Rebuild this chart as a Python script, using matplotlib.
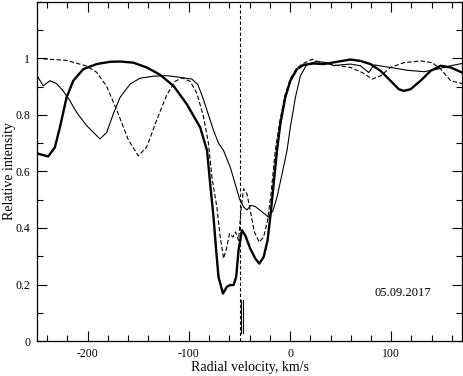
import matplotlib
matplotlib.use('Agg')
import matplotlib.pyplot as plt
from matplotlib.ticker import MultipleLocator

plt.rcParams['font.family'] = 'Liberation Serif'

# thick solid profile
x1 = [-250, -239, -232.4, -227.4, -220.8, -214.2, -204.3, -191.1, -177.9, -168, -154.9, -141.6, -128.4,
      -115.2, -102, -88.8, -82, -78.9, -75.6, -73, -70.7, -66.3, -62.4, -59.1, -55.8, -53.2, -50.9, -47.5,
      -44.3, -39.3, -34.4, -30.4, -26.1, -22.2, -18.8, -16.2, -12.9, -9.6, -4.7, 0.3, 6.9, 13.5, 23.4,
      33.3, 46.5, 59.7, 69.6, 79.5, 89.4, 99.3, 107.5, 112.5, 119.1, 129, 138.9, 148.8, 158.7, 170]
y1 = [0.664, 0.653, 0.685, 0.756, 0.862, 0.921, 0.962, 0.98, 0.988, 0.989, 0.985, 0.968, 0.942,
      0.903, 0.838, 0.756, 0.674, 0.556, 0.438, 0.321, 0.227, 0.168, 0.192, 0.198, 0.198, 0.227, 0.321,
      0.392, 0.374, 0.327, 0.292, 0.274, 0.297, 0.356, 0.462, 0.556, 0.674, 0.768, 0.862, 0.921, 0.962,
      0.977, 0.982, 0.98, 0.988, 0.996, 0.991, 0.98, 0.956, 0.921, 0.891, 0.885, 0.891, 0.921, 0.956,
      0.974, 0.968, 0.95]

# thin solid profile
x2 = [-250.5, -243.9, -237.3, -230.7, -224.2, -217.5, -210.9, -201, -191.1, -187.8, -181.2, -174.7,
      -168, -158.1, -148.2, -135, -121.8, -108.6, -97, -91, -85.5, -80.6, -75.6, -70.6, -65.7, -59.1,
      -54.2, -49.9, -45.9, -42.6, -38.6, -34.4, -29.4, -24.5, -21.2, -16.8, -12.9, -7.9, -3, 0.3, 5.3,
      10.2, 16.8, 26.7, 36.6, 43.2, 49.8, 59.7, 69.6, 77.8, 82.8, 99.3, 115.8, 132.3, 145.5, 158.7, 170]
y2 = [0.942, 0.903, 0.921, 0.911, 0.885, 0.85, 0.809, 0.762, 0.727, 0.715, 0.738, 0.803,
      0.862, 0.909, 0.93, 0.937, 0.939, 0.933, 0.927, 0.907, 0.854, 0.80, 0.745, 0.70, 0.674, 0.615,
      0.556, 0.503, 0.474, 0.464, 0.48, 0.476, 0.462, 0.448, 0.438, 0.462, 0.509, 0.591, 0.674, 0.756,
      0.862, 0.938, 0.98, 0.989, 0.985, 0.974, 0.977, 0.98, 0.974, 0.95, 0.977, 0.968, 0.958, 0.953,
      0.962, 0.974, 0.982]

# dashed profile
x3 = [-250.5, -220.8, -201, -191.1, -181.2, -171.3, -159.7, -149.8, -141.6, -131.7, -121.8, -113.5,
      -106.9, -98.7, -92.1, -85.5, -80.6, -77.2, -72.3, -69, -65.7, -62.4, -59.8, -56.4, -53.9, -50.9,
      -48.2, -45.9, -42.6, -39.3, -35.3, -30.4, -26.1, -22.2, -18.8, -14.6, -10, -5, 0.5, 6, 11.9,
      21.8, 30, 43.2, 59.7, 71.3, 81.2, 89.4, 99.3, 112.5, 129, 140.6, 148.8, 158.7, 170]
y3 = [1.0, 0.993, 0.973, 0.951, 0.901, 0.818, 0.711, 0.655, 0.687, 0.782, 0.871, 0.919,
      0.931, 0.919, 0.877, 0.794, 0.699, 0.58, 0.474, 0.368, 0.292, 0.333, 0.38, 0.368, 0.386, 0.356,
      0.474, 0.539, 0.521, 0.462, 0.386, 0.35, 0.368, 0.427, 0.521, 0.674, 0.78, 0.87, 0.93, 0.962,
      0.98, 0.997, 0.985, 0.977, 0.968, 0.95, 0.927, 0.938, 0.968, 0.985, 0.991, 0.985, 0.962, 0.921,
      0.911]

v_sys = -49.8
marks = [-48.3, -46.8]
label = '05.09.2017'

fig = plt.figure(figsize=(4.63, 3.76), dpi=100)
ax = fig.add_axes([0.080, 0.093, 0.918, 0.902])

ax.plot(x1, y1, color='black', lw=1.7)
ax.plot(x2, y2, color='black', lw=0.8)
ax.plot(x3, y3, color='black', lw=0.8, dashes=(4, 2))
ax.axvline(v_sys, color='black', lw=0.8, dashes=(3, 2))
for m in marks:
    ax.plot([m, m], [0.03, 0.145], color='black', lw=0.8)

ax.text(111, 0.17, label, ha='center', va='center', fontsize=9)

ax.set_xlim(-250, 170)
ax.set_ylim(0, 1.2)
ax.set_xticks([-200, -100, 0, 100])
ax.set_xticklabels(['-200', '-100', '0', '100'])
ax.set_yticks([0, 0.2, 0.4, 0.6, 0.8, 1.0])
ax.set_yticklabels(['0', '0.2', '0.4', '0.6', '0.8', '1'])
ax.xaxis.set_minor_locator(MultipleLocator(20))
ax.yaxis.set_minor_locator(MultipleLocator(0.1))
ax.tick_params(which='both', direction='in', top=True, right=True, labelsize=8.5)
ax.tick_params(axis='x', which='major', pad=5)
ax.tick_params(axis='y', which='major', pad=5)
ax.tick_params(which='major', length=7, width=0.8)
ax.tick_params(which='minor', length=4, width=0.8)
for s in ax.spines.values():
    s.set_linewidth(0.9)

ax.set_xlabel('Radial velocity, km/s', fontsize=10, labelpad=1)
ax.set_ylabel('Relative intensity', fontsize=10)
ax.yaxis.set_label_coords(-0.050, 0.5)

fig.savefig('out.png', dpi=100)
